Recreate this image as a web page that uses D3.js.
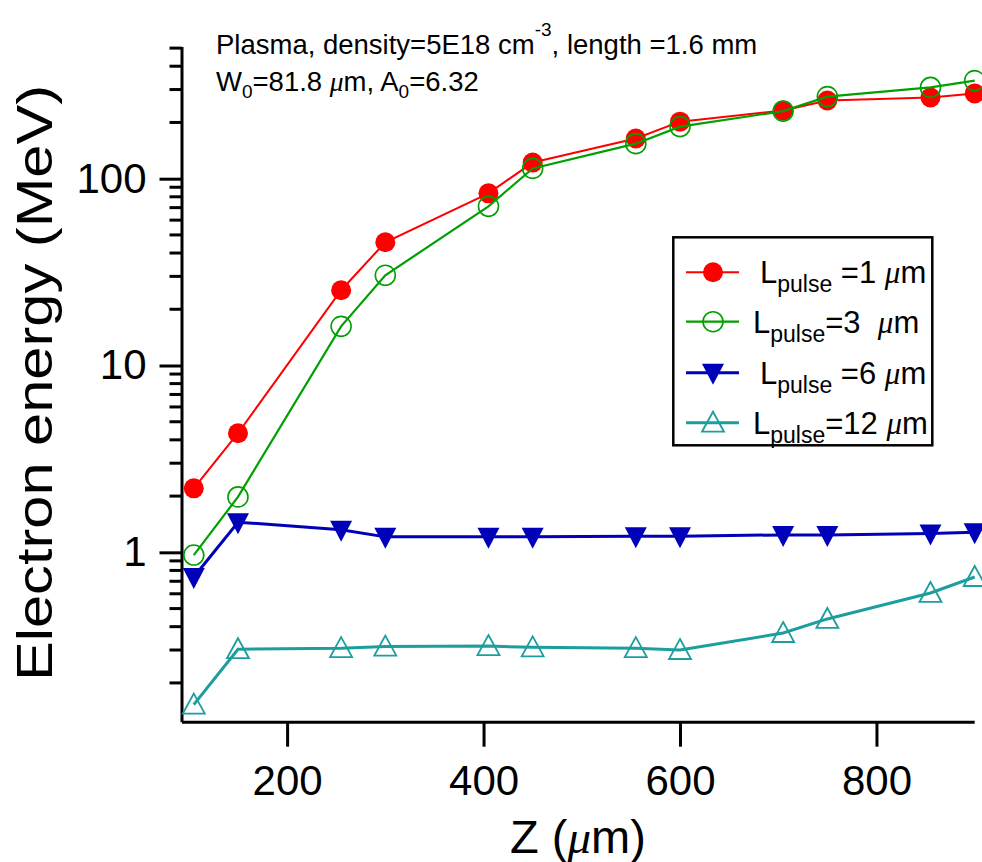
<!DOCTYPE html>
<html>
<head>
<meta charset="utf-8">
<script src="https://cdn.jsdelivr.net/npm/d3@7"></script>
<style>
  body { margin: 0; background: #fff; }
  svg { display: block; }
  text { font-family: "Liberation Sans", Arial, sans-serif; fill: #000; }
  .mu { font-family: "Liberation Serif", "DejaVu Serif", serif; font-style: italic; }
</style>
</head>
<body>
<svg id="chart" width="982" height="862"></svg>
<script>
// Propagation distance along the plasma (µm)
const zPositions = [105, 150, 255, 300, 405, 450, 555, 600, 705, 750, 855, 900];

// Maximum electron energy (MeV) for each laser pulse length
const energyPulse1 = [2.2, 4.34, 25.3, 45.7, 83.5, 122, 164, 202, 232, 262, 272, 286];
const energyPulse3 = [0.967, 1.98, 16.2, 30.4, 71.1, 113.5, 154, 190, 230, 275, 308, 335];
const energyPulse6 = [0.738, 1.45, 1.32, 1.21, 1.21, 1.21, 1.22, 1.22, 1.24, 1.24, 1.26, 1.28];
const energyPulse12 = [0.153, 0.303, 0.307, 0.313, 0.315, 0.31, 0.307, 0.30, 0.37, 0.44, 0.606, 0.738];

const pulseLengths = ["1", "3", "6", "12"];
const xTickValues = [200, 400, 600, 800];
const yMajorTicks = [1, 10, 100];
const yTickLabels = ["1", "10", "100"];

const series = [
  { len: pulseLengths[0], values: energyPulse1, color: "#ff0000", lw: 2, symbol: "circleFilled", eq: "\u00a0=", tail: "\u00a0", tx: 760 },
  { len: pulseLengths[1], values: energyPulse3, color: "#00a000", lw: 2.2, symbol: "circleOpen", eq: "=", tail: "\u00a0\u00a0", tx: 753 },
  { len: pulseLengths[2], values: energyPulse6, color: "#0000b8", lw: 3, symbol: "triangleDown", eq: "\u00a0=", tail: "\u00a0", tx: 760 },
  { len: pulseLengths[3], values: energyPulse12, color: "#1c9e9e", lw: 3, symbol: "triangleUp", eq: "=", tail: "\u00a0", tx: 753 }
];

const svg = d3.select("#chart");

const x = d3.scaleLinear().domain([92.5, 899.5]).range([181.5, 974.2]);
const y = d3.scaleLog().domain([0.124, 510]).range([721.7, 46.5]);

// Minor ticks: 2..9 in each decade inside the domain
const yMinorTicks = [];
[0.1, 1, 10, 100].forEach(d => {
  for (let k = 2; k <= 9; k++) {
    const v = d * k;
    if (v >= 0.124 && v <= 510) yMinorTicks.push(v);
  }
});

const axisG = svg.append("g");

// Left axis
const yAxis = d3.axisLeft(y).tickValues(yMajorTicks).tickSize(22).tickSizeOuter(0)
  .tickFormat((d, i) => yTickLabels[i]).tickPadding(13);
const yAxisG = axisG.append("g").attr("transform", "translate(181.5,0)").call(yAxis);
yAxisG.append("g").selectAll("line").data(yMinorTicks).join("line")
  .attr("x1", -12).attr("x2", 0).attr("y1", d => y(d)).attr("y2", d => y(d));

// Bottom axis
const xAxis = d3.axisBottom(x).tickValues(xTickValues).tickSize(25).tickSizeOuter(0)
  .tickFormat(d3.format("d")).tickPadding(18);
const xAxisG = axisG.append("g").attr("transform", "translate(0,721.7)").call(xAxis);

[yAxisG, xAxisG].forEach(g => {
  g.select(".domain").attr("stroke", "#000").attr("stroke-width", 3);
  g.selectAll("line").attr("stroke", "#000").attr("stroke-width", 3);
  g.selectAll(".tick text").attr("font-size", 42).attr("fill", "#000")
    .attr("font-family", "'Liberation Sans', Arial, sans-serif");
});

// Marker shapes
function drawSymbol(g, type, color, cx, cy) {
  if (type === "circleFilled") {
    g.append("circle").attr("cx", cx).attr("cy", cy).attr("r", 10).attr("fill", color);
  } else if (type === "circleOpen") {
    g.append("circle").attr("cx", cx).attr("cy", cy).attr("r", 10)
      .attr("fill", "none").attr("stroke", color).attr("stroke-width", 1.6);
  } else if (type === "triangleDown") {
    g.append("path").attr("d", "M-11,-9L11,-9L0,12Z").attr("transform", `translate(${cx},${cy})`)
      .attr("fill", color);
  } else if (type === "triangleUp") {
    g.append("path").attr("d", "M0,-11L11,9L-11,9Z").attr("transform", `translate(${cx},${cy})`)
      .attr("fill", "none").attr("stroke", color).attr("stroke-width", 1.8);
  }
}

const line = d3.line().x(d => x(d[0])).y(d => y(d[1]));

series.forEach(s => {
  const pts = zPositions.map((z, i) => [z, s.values[i]]);
  const g = svg.append("g");
  g.append("path").datum(pts).attr("d", line)
    .attr("fill", "none").attr("stroke", s.color).attr("stroke-width", s.lw);
  pts.forEach(p => drawSymbol(g, s.symbol, s.color, x(p[0]), y(p[1])));
});

// Axis titles
svg.append("text")
  .attr("transform", "translate(52,383) rotate(-90)")
  .attr("text-anchor", "middle").attr("font-size", 50)
  .attr("textLength", 596).attr("lengthAdjust", "spacingAndGlyphs")
  .text("Electron energy (MeV)");

const xTitle = svg.append("text").attr("x", 578).attr("y", 853)
  .attr("text-anchor", "middle").attr("font-size", 47);
xTitle.append("tspan").text("Z (");
xTitle.append("tspan").attr("class", "mu").text("\u03bc");
xTitle.append("tspan").text("m)");

// Simulation parameters
const t1 = svg.append("text").attr("x", 216).attr("y", 54).attr("font-size", 27.5);
t1.append("tspan").text("Plasma, density=5E18 cm");
t1.append("tspan").attr("dy", -18).attr("font-size", 19).text("-3");
t1.append("tspan").attr("dy", 18).text(", length =1.6 mm");

const t2 = svg.append("text").attr("x", 216).attr("y", 91).attr("font-size", 27.5);
t2.append("tspan").text("W");
t2.append("tspan").attr("dy", 7).attr("font-size", 19).text("0");
t2.append("tspan").attr("dy", -7).text("=81.8 ");
t2.append("tspan").attr("class", "mu").text("\u03bc");
t2.append("tspan").text("m, A");
t2.append("tspan").attr("dy", 7).attr("font-size", 19).text("0");
t2.append("tspan").attr("dy", -7).text("=6.32");

// Legend
const legend = svg.append("g");
legend.append("rect").attr("x", 673.3).attr("y", 237.3).attr("width", 259).attr("height", 208)
  .attr("fill", "#fff").attr("stroke", "#000").attr("stroke-width", 2.5);
const rowY = [272.3, 321.7, 372.7, 422.7];
series.forEach((s, i) => {
  const ry = rowY[i];
  legend.append("line").attr("x1", 686).attr("x2", 739).attr("y1", ry).attr("y2", ry)
    .attr("stroke", s.color).attr("stroke-width", s.lw);
  drawSymbol(legend, s.symbol, s.color, 713, ry);
  const tx = legend.append("text").attr("x", s.tx).attr("y", ry + 11).attr("font-size", 31);
  tx.append("tspan").text("L");
  tx.append("tspan").attr("dy", 9).attr("font-size", 23).text("pulse");
  tx.append("tspan").attr("dy", -9).text(s.eq + s.len + s.tail);
  tx.append("tspan").attr("class", "mu").text("\u03bc");
  tx.append("tspan").text("m");
});
</script>
</body>
</html>
